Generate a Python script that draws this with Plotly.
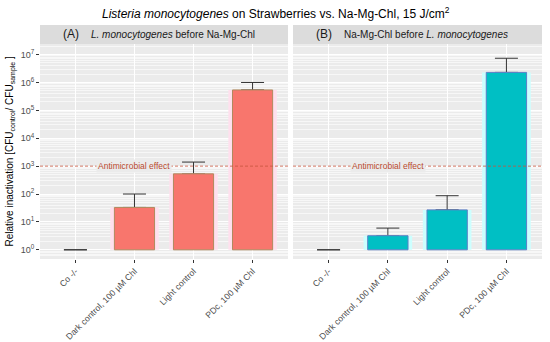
import plotly.graph_objects as go
import math

categories = ["Co -/-", "Dark control, 100 µM Chl", "Light control", "PDc, 100 µM Chl"]
a_mean = [1, 33, 530, 540000]
a_upper = [1, 100, 1400, 1.0e6]
b_mean = [1, 3.2, 27, 2.3e6]
b_upper = [1, 6, 87, 7.4e6]
threshold = 1000
exponents = [0, 1, 2, 3, 4, 5, 6, 7]
tick_vals = [10 ** e for e in exponents]
tick_text = ["10<sup>%d</sup>" % e for e in exponents]

FONT = "Liberation Sans"
PANEL_BG = "#EBEBEB"

fig = go.Figure()

panels = [
    ("x", "y", a_mean, a_upper, "#F8766D", "#B08A5E", "#FFE0EE"),
    ("x2", "y2", b_mean, b_upper, "#00BFC4", "#5E7FC6", "#CCFFFF"),
]
for xa, ya, mean, upper, col, edge, halo in panels:
    heights = [m - 1 for m in mean]
    edge_w = [1 if h > 0 else 0 for h in heights]
    fig.add_trace(go.Bar(x=categories, y=heights, base=[1] * len(mean),
                         width=0.82, marker=dict(color=halo, line=dict(width=0)),
                         xaxis=xa, yaxis=ya, zorder=1, showlegend=False, hoverinfo="skip"))
    fig.add_trace(go.Bar(x=categories, y=heights, base=[1] * len(mean),
                         width=0.68, marker=dict(color=col, line=dict(color=edge, width=edge_w)),
                         xaxis=xa, yaxis=ya, zorder=2, showlegend=False))
    fig.add_trace(go.Scatter(x=categories, y=mean, mode="markers",
                             marker=dict(size=1, color="rgba(0,0,0,0)"),
                             error_y=dict(type="data", symmetric=False,
                                          array=[u - m for u, m in zip(upper, mean)],
                                          arrayminus=[0] * len(mean),
                                          color="#333333", thickness=1, width=11.5),
                             xaxis=xa, yaxis=ya, zorder=0, showlegend=False))

xcommon = dict(type="category", categoryorder="array", categoryarray=categories,
               range=[-0.6, 3.6], showgrid=True, gridcolor="white", gridwidth=1,
               ticks="outside", ticklen=3, tickcolor="#333333", tickangle=-45,
               tickfont=dict(family=FONT, size=8.7, color="#4D4D4D"),
               showline=False, zeroline=False, automargin=False)
ycommon = dict(type="log", range=[-0.33, 7.38], tickmode="array", tickvals=tick_vals,
               ticktext=tick_text, showgrid=True, gridcolor="white", gridwidth=1,
               minor=dict(showgrid=True, gridcolor="#F7F7F7", gridwidth=0.7, dtick="D1"),
               ticks="outside", ticklen=3, tickcolor="#333333",
               tickfont=dict(family=FONT, size=9, color="#4D4D4D"),
               showline=False, zeroline=False, automargin=False)

fig.update_layout(
    width=550, height=342, autosize=False,
    margin=dict(l=40, r=8, t=44, b=83),
    paper_bgcolor="white", plot_bgcolor=PANEL_BG,
    barmode="overlay",
    font=dict(family=FONT, color="#1A1A1A"),
    xaxis=dict(domain=[0, 0.494], anchor="y", **xcommon),
    xaxis2=dict(domain=[0.504, 1], anchor="y2", **xcommon),
    yaxis=dict(anchor="x", **ycommon),
    yaxis2=dict(anchor="x2", matches="y", **ycommon),
)
fig.update_layout(yaxis2=dict(showticklabels=False, ticks=""))

log_thr = math.log10(threshold)
shapes = []
annotations = []
for xr, yr, d0, d1, lab, sub in [("x", "y", 0, 0.494, "(A)", "<i>L. monocytogenes</i> before Na-Mg-Chl"),
                                  ("x2", "y2", 0.504, 1, "(B)", "Na-Mg-Chl before <i>L. monocytogenes</i>")]:
    shapes.append(dict(type="line", xref=xr + " domain", yref=yr, x0=0, x1=1, y0=threshold, y1=threshold,
                       line=dict(color="#C8553D", width=0.8, dash="3px,2px"), layer="above"))
    shapes.append(dict(type="rect", xref="paper", yref="paper", x0=d0, x1=d1, y0=1, y1=1 + 19 / 215,
                       fillcolor="#DCDCDC", line=dict(width=0), layer="below"))
    annotations.append(dict(x=categories[1], y=log_thr, xref=xr, yref=yr, text="Antimicrobial effect",
                            showarrow=False, bgcolor=PANEL_BG, borderpad=1,
                            font=dict(family=FONT, size=8.5, color="#B94A2F")))
    annotations.append(dict(x=d0 + 31 / 502, y=1 + 9.5 / 215, xref="paper", yref="paper", text=lab,
                            showarrow=False, xanchor="center", yanchor="middle",
                            font=dict(family=FONT, size=12, color="#1A1A1A")))
    annotations.append(dict(x=d0 + 49 / 502, y=1 + 9.5 / 215, xref="paper", yref="paper", text=sub,
                            showarrow=False, xanchor="left", yanchor="middle",
                            font=dict(family=FONT, size=10, color="#1A1A1A")))

annotations.append(dict(x=(276 - 40) / 502, y=1 + 31 / 215, xref="paper", yref="paper",
                        text="<i>Listeria monocytogenes</i> on Strawberries vs. Na-Mg-Chl, 15 J/cm<sup>2</sup>",
                        showarrow=False, xanchor="center", yanchor="middle",
                        font=dict(family=FONT, size=12, color="#000000")))
annotations.append(dict(x=(10 - 40) / 502, y=0.5, xref="paper", yref="paper", textangle=-90,
                        text="Relative inactivation [CFU<sub>control</sub>/ CFU<sub>sample</sub> ]",
                        showarrow=False, xanchor="center", yanchor="middle",
                        font=dict(family=FONT, size=10, color="#000000")))

fig.update_layout(shapes=shapes, annotations=annotations)
fig.write_html("out.html", config={"displayModeBar": False},
               post_script="document.body.style.margin='0';")
